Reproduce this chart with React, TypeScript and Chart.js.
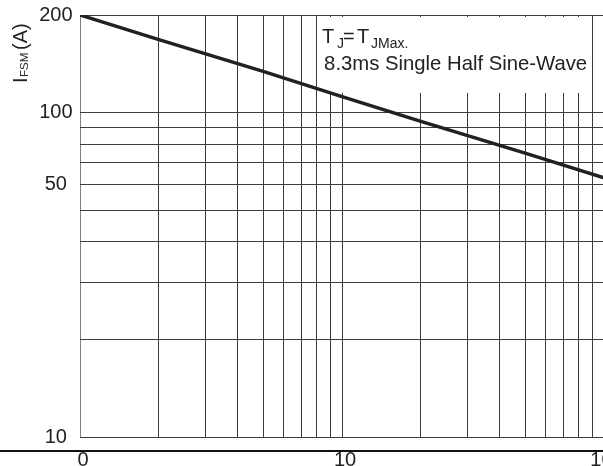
import { useEffect, useRef } from "react";
import { Chart, registerables } from "chart.js";

Chart.register(...registerables);

// Number of cycles at 60Hz (x) and peak forward surge current in A (y)
const cycles = [1, 2, 5, 10, 20, 50, 100];
const peakCurrent = [200, 168, 134, 112, 94, 75, 63];

// Axis grid and labels
const xGridValues = [1, 2, 3, 4, 5, 6, 7, 8, 9, 10, 20, 30, 40, 50, 60, 70, 80, 90, 100];
const xLabelValues = [1, 10, 100];
const xLabelTexts = ["0", "10", "100"];
const yGridValues = [10, 20, 30, 40, 50, 60, 70, 80, 90, 100, 200];
const yLabelValues = [10, 60, 100, 200];
const yLabelTexts = ["10", "50", "100", "200"];

// Annotation texts
const noteLine1Texts = ["T", "J", "=", "T", "JMax."];
const noteLine1Sub = [false, true, false, false, true];
const noteLine2 = "8.3ms Single Half Sine-Wave";
const yTitleTexts = ["I", "FSM", "(A)"];
const yTitleSub = [false, true, false];

const FONT = "'Liberation Sans', Arial, Helvetica, sans-serif";
const TEXT = "#222";
const GRID = "#3c3c3c";

function labelFor(values: number[], texts: string[], v: number) {
  const i = values.indexOf(Number(v));
  return i >= 0 ? texts[i] : "";
}

export default function App() {
  const ref = useRef<HTMLCanvasElement>(null);

  useEffect(() => {
    const canvas = ref.current;
    if (!canvas) return;

    const decor = {
      id: "decor",
      beforeDatasetsDraw(chart: any) {
        const { ctx, chartArea, scales } = chart;
        const xs = scales.x;
        const ys = scales.y;
        const left = xs.getPixelForValue(8) + 1;
        const right = xs.getPixelForValue(90) - 1;
        const top = chartArea.top + 2;
        const bottom = ys.getPixelForValue(115);
        ctx.save();
        ctx.fillStyle = "#ffffff";
        ctx.fillRect(left, top, right - left, bottom - top);
        ctx.restore();
      },
      afterDraw(chart: any) {
        const { ctx, chartArea, scales, width } = chart;
        const xs = scales.x;
        ctx.save();
        // separate horizontal axis line below the plot
        ctx.fillStyle = "#111";
        ctx.fillRect(0, chartArea.bottom + 13, width, 2);

        // annotation
        ctx.fillStyle = TEXT;
        ctx.textBaseline = "alphabetic";
        ctx.textAlign = "left";
        const nx = xs.getPixelForValue(8) + 5.5;
        const offs = [0, 15, 21, 35, 49];
        const b1 = chartArea.top + 28.3;
        noteLine1Texts.forEach((t, i) => {
          const sub = noteLine1Sub[i];
          ctx.font = `${sub ? 14 : 20}px ${FONT}`;
          ctx.fillText(t, nx + offs[i], sub ? b1 + 4.5 : b1);
        });
        ctx.font = `20.3px ${FONT}`;
        ctx.fillText(noteLine2, nx + 2, chartArea.top + 55);

        // y axis title, rotated
        ctx.translate(27, chartArea.top + 68);
        ctx.rotate(-Math.PI / 2);
        const toffs = [0, 6, 33];
        yTitleTexts.forEach((t, i) => {
          const sub = yTitleSub[i];
          ctx.font = `${sub ? 11.5 : 20}px ${FONT}`;
          ctx.fillText(t, toffs[i], sub ? 0.8 : 0);
        });
        ctx.restore();
      },
    };

    const chart = new Chart(canvas, {
      type: "line",
      data: {
        datasets: [
          {
            data: cycles.map((c, i) => ({ x: c, y: peakCurrent[i] })),
            borderColor: "#1e2228",
            borderWidth: 3.5,
            pointRadius: 0,
            tension: 0,
            fill: false,
          },
        ],
      },
      options: {
        animation: false,
        responsive: false,
        events: [],
        layout: { padding: { top: 15, right: 6, left: 0, bottom: 0 } },
        plugins: {
          legend: { display: false },
          tooltip: { enabled: false },
          title: { display: false },
        },
        scales: {
          x: {
            type: "logarithmic",
            min: 1,
            max: 100,
            afterBuildTicks: (s: any) => {
              s.ticks = xGridValues.map((v) => ({ value: v }));
            },
            afterFit: (s: any) => {
              s.height = 29;
              s.paddingLeft = 0;
              s.paddingRight = 0;
            },
            grid: {
              color: (c: any) => (c.tick && c.tick.value === 1 ? "#808080" : GRID),
              lineWidth: 1,
              drawTicks: false,
            },
            border: { display: false },
            ticks: {
              autoSkip: false,
              maxRotation: 0,
              minRotation: 0,
              padding: 11,
              labelOffset: 3,
              color: TEXT,
              font: { size: 20, family: FONT },
              callback: (v: any) => labelFor(xLabelValues, xLabelTexts, v),
            },
          },
          y: {
            type: "logarithmic",
            min: 10,
            max: 200,
            afterBuildTicks: (s: any) => {
              s.ticks = yGridValues.map((v) => ({ value: v }));
            },
            afterFit: (s: any) => {
              s.width = 80;
              s.paddingTop = 0;
              s.paddingBottom = 0;
            },
            grid: { color: GRID, lineWidth: 1, drawTicks: false },
            border: { display: false },
            ticks: {
              autoSkip: false,
              crossAlign: "center",
              padding: 7.5,
              color: TEXT,
              font: { size: 20, family: FONT },
              callback: (v: any) => labelFor(yLabelValues, yLabelTexts, v),
            },
          },
        },
      },
      plugins: [decor],
    } as any);

    return () => chart.destroy();
  }, []);

  return (
    <div
      style={{
        position: "absolute",
        left: 0,
        top: 0,
        width: 603,
        height: 466,
        overflow: "hidden",
        background: "#fff",
      }}
    >
      <canvas ref={ref} width={610} height={466} style={{ display: "block" }} />
    </div>
  );
}
